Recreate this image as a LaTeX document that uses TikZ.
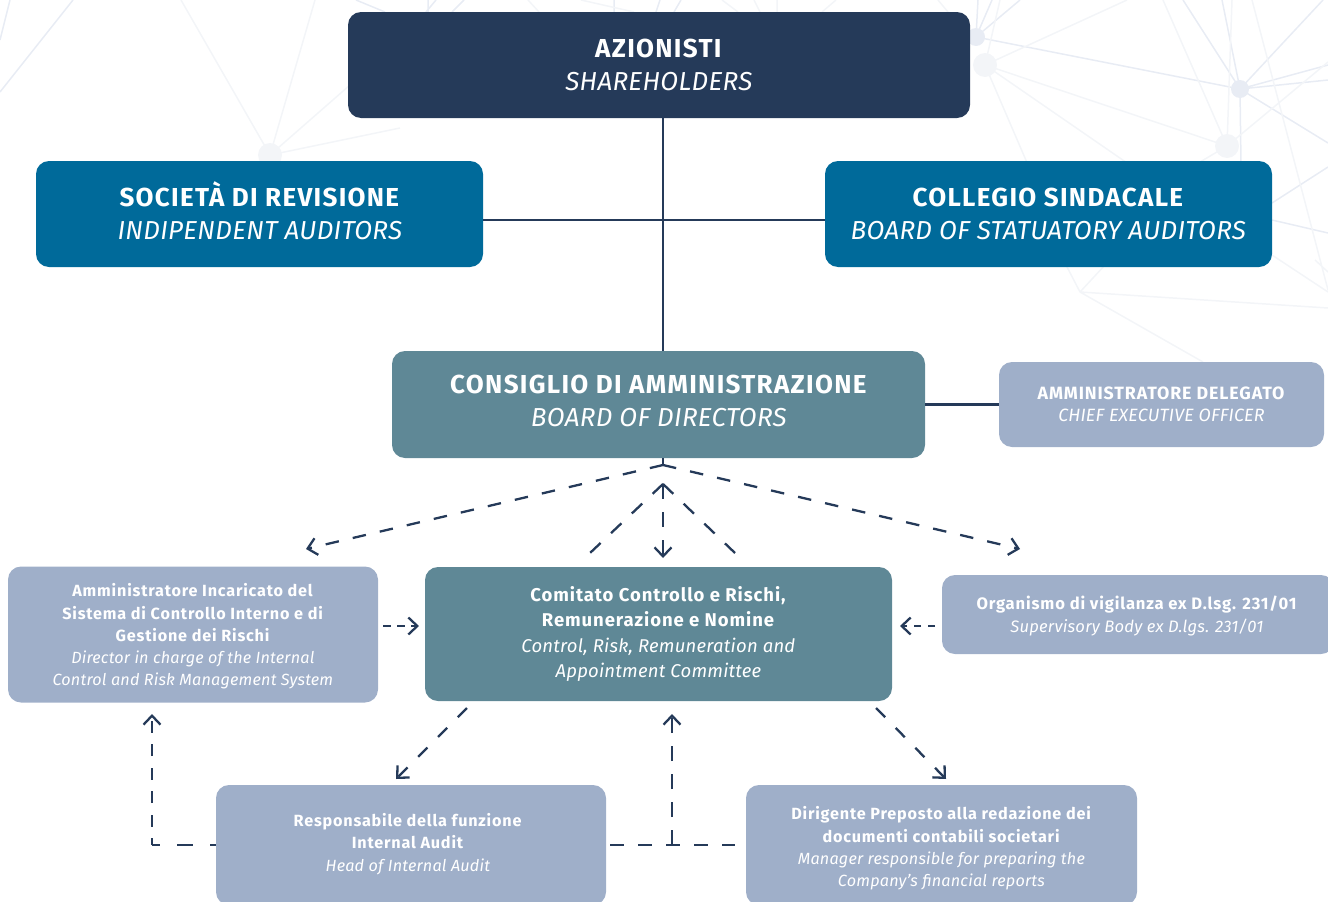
\documentclass[tikz,border=0pt]{standalone}
\usepackage{fontspec}
\setmainfont{Fira Sans}[ItalicFeatures={LetterSpace=1.2},BoldFeatures={LetterSpace=5}]
\usetikzlibrary{arrows.meta}
\definecolor{navy}{HTML}{253A59}
\definecolor{blueb}{HTML}{006A9A}
\definecolor{teal}{HTML}{5F8896}
\definecolor{peri}{HTML}{9FAFC9}
\definecolor{netA}{HTML}{E8ECF4}
\definecolor{netB}{HTML}{F3F5F8}
\newcommand{\bigtxt}{\fontsize{26}{33}\selectfont}
\newcommand{\midtxt}{\fontsize{18.5}{25.2}\selectfont}
\newcommand{\smalltxt}{\fontsize{16.2}{22.3}\selectfont}
\newcommand{\odvtxt}{\fontsize{16.6}{22.8}\selectfont}
\newcommand{\adtxt}{\fontsize{17.8}{22.5}\selectfont}
\tikzset{
 x=1pt,y=-1pt,
 boxnode/.style={rounded corners=13pt,draw=none,text=white,align=center,inner sep=0pt},
 big/.style={boxnode,font=\bigtxt},
 mid/.style={boxnode,font=\midtxt},
 small/.style={boxnode,font=\smalltxt},
 adbox/.style={boxnode,font=\adtxt},
 odvbox/.style={boxnode,font=\odvtxt},
 link/.style={draw=navy,line width=2.3pt},
 headed/.style={link,-{Straight Barb[length=9pt,width=17pt,line width=2.3pt]}},
 netone/.style={draw=netA,line width=1.5pt},
 nettwo/.style={draw=netB,line width=1.5pt},
}
\begin{document}
\begin{tikzpicture}
\useasboundingbox (0,0) rectangle (1328,902);
% background network
\draw[netone] (976,37)--(1240,89) (976,37)--(978,0) (976,37)--(992,0) (976,37)--(1020,0)
 (1240,89)--(1183,0) (1240,89)--(1222,0) (1240,89)--(1323,0) (1240,89)--(1328,65) (1240,89)--(1328,80)
 (1240,89)--(1328,143) (1240,89)--(1241,165) (1272,203)--(1328,167) (1272,220)--(1328,233)
 (0,92)--(73,0) (0,40)--(10,0) (356,0)--(385,12)
 (428,0)--(428,12) (436,0)--(426,12) (464,0)--(452,12) (614,0)--(614,12) (660,0)--(656,12) (681,0)--(674,12);
\draw[nettwo] (985,65)--(1127,0) (985,65)--(1000,0) (985,65)--(1227,146) (985,65)--(1130,165) (985,65)--(1028,165)
 (1227,146)--(1163,0) (1227,146)--(1232,0) (1227,146)--(1328,62) (1227,146)--(1195,165)
 (1252,0)--(1328,290) (1080,292)--(1328,308) (1080,292)--(1105,265) (1080,292)--(1066,265) (1080,292)--(1203,362)
 (1272,255)--(1328,292) (1315,260)--(1328,272)
 (270,155)--(181,0) (270,155)--(315,0) (270,155)--(350,85) (270,155)--(400,128)
 (528,0)--(539,12) (581,0)--(634,12) (722,0)--(738,12) (754,0)--(760,12) (777,0)--(777,12) (836,0)--(822,12) (938,0)--(948,12);
\fill[netA] (976,37) circle (9) (1240,89) circle (9);
\fill[netB] (985,65) circle (12) (1227,146) circle (12) (270,155) circle (12);
% boxes
\node[big,fill=navy,minimum width=622pt,minimum height=106pt] (az) at (659,65) {\textbf{AZIONISTI}\\\textit{SHAREHOLDERS}};
\node[big,fill=blueb,minimum width=447pt,minimum height=106pt] (soc) at (259.5,214) {};
\node[big] (soctext) at (260,211) {\textbf{SOCIETÀ DI REVISIONE}\\\textit{INDIPENDENT AUDITORS}};
\node[big,fill=blueb,minimum width=447pt,minimum height=106pt] (col) at (1048.5,214) {\textbf{COLLEGIO SINDACALE}\\\textit{BOARD OF STATUATORY AUDITORS}};
\node[big,fill=teal,minimum width=533pt,minimum height=107pt] (cda) at (658.5,404.5) {};
\node[big] (cdatext) at (659,401) {\textbf{CONSIGLIO DI AMMINISTRAZIONE}\\\textit{BOARD OF DIRECTORS}};
\node[adbox,fill=peri,minimum width=325pt,minimum height=85pt] (ad) at (1161.5,404.5) {\textbf{AMMINISTRATORE DELEGATO}\\\textit{CHIEF EXECUTIVE OFFICER}};
\node[small,fill=peri,minimum width=370pt,minimum height=136pt] (ai) at (193,634.5) {};
\node[small] (aitext) at (193,636.5) {\textbf{Amministratore Incaricato del}\\\textbf{Sistema di Controllo Interno e di}\\\textbf{Gestione dei Rischi}\\\textit{Director in charge of the Internal}\\\textit{Control and Risk Management System}};
\node[mid,fill=teal,minimum width=467pt,minimum height=134pt] (com) at (658.5,634) {\textbf{Comitato Controllo e Rischi,}\\\textbf{Remunerazione e Nomine}\\\textit{Control, Risk, Remuneration and}\\\textit{Appointment Committee}};
\node[small,fill=peri,minimum width=392pt,minimum height=79pt] (odv) at (1138,614.5) {};
\node[odvbox] (odvtext) at (1137,616) {\textbf{Organismo di vigilanza ex D.lsg. 231/01}\\\textit{Supervisory Body ex D.lgs. 231/01}};
\node[small,fill=peri,minimum width=390pt,minimum height=120pt] (resp) at (411,845) {};
\node[small] (resptext) at (408,844) {\textbf{Responsabile della funzione}\\\textbf{Internal Audit}\\\textit{Head of Internal Audit}};
\node[small,fill=peri,minimum width=391pt,minimum height=120pt] (dir) at (941.5,845) {};
\node[small] (dirtext) at (941.5,848.5) {\textbf{Dirigente Preposto alla redazione dei}\\\textbf{documenti contabili societari}\\\textit{Manager responsible for preparing the}\\\textit{Company’s financial reports}};
% free ends
\coordinate (tip) at (663,465);
\coordinate (apex) at (663,484);
\coordinate (lf) at (306,549);
\coordinate (rt) at (1020,549);
\coordinate (cdown) at (663,558);
\coordinate (rl) at (590,553);
\coordinate (rr) at (735,553);
\coordinate (aiA) at (383,626);
\coordinate (comA) at (419,626);
\coordinate (odA) at (935,626);
\coordinate (comB) at (900,626);
\coordinate (c1) at (467,708);
\coordinate (c2) at (396,779);
\coordinate (c3) at (876,708);
\coordinate (c4) at (946,779);
\coordinate (k1) at (152,845);
\coordinate (k2) at (152,714);
\coordinate (m1) at (610,845);
\coordinate (m2) at (735,845);
\coordinate (m3) at (672,845);
\coordinate (m4) at (672,714);
% solid
\draw[link] (az.south -| 663,0) -- (cda.north -| 663,0);
\draw[link] ([yshift=-6pt]soc.east) -- ([yshift=-6pt]col.west);
\draw[link] (cda.east) -- (ad.west);
% dashed
\draw[link] (cda.south -| tip) -- (tip);
\draw[headed,dash pattern=on 13.5pt off 14.25pt] (tip) -- (lf);
\draw[headed,dash pattern=on 13.5pt off 14.25pt] (tip) -- (rt);
\draw[headed,dash pattern=on 15pt off 13pt] (apex) -- (cdown);
\draw[link,dash pattern=on 14.3pt off 14.3pt] (apex) -- (rl);
\draw[link,dash pattern=on 14.3pt off 14.3pt] (apex) -- (rr);
\draw[headed,dash pattern=on 8pt off 6pt] (aiA) -- (comA);
\draw[headed,dash pattern=on 7pt off 7pt] (odA) -- (comB);
\draw[headed,dash pattern=on 13pt off 15pt] (c1) -- (c2);
\draw[headed,dash pattern=on 13pt off 15pt] (c3) -- (c4);
\draw[link,dash pattern=on 16pt off 17pt,dash phase=10pt] (resp.west |- k1) -- (k1);
\draw[headed,dash pattern=on 12pt off 11.5pt,dash phase=5pt] (k1) -- (k2);
\draw[link,dash pattern=on 14pt off 14pt] (m1) -- (m2);
\draw[headed,dash pattern=on 15pt off 13pt] (m3) -- (m4);
\end{tikzpicture}
\end{document}
